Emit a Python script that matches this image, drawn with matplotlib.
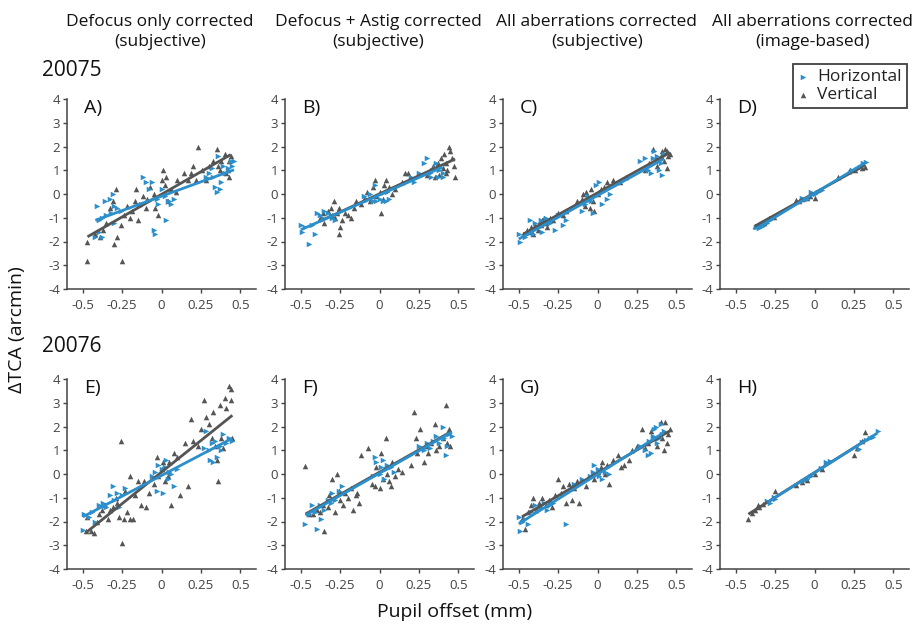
import numpy as np
import matplotlib
matplotlib.use("Agg")
import matplotlib.pyplot as plt

plt.rcParams['font.family'] = ['Open Sans', 'DejaVu Sans']

BLUE = '#2b8fcc'
GRAY = '#555555'
AXC = '#444444'

col_titles = ["Defocus only corrected\n(subjective)",
              "Defocus + Astig corrected\n(subjective)",
              "All aberrations corrected\n(subjective)",
              "All aberrations corrected\n(image-based)"]
row_titles = ["20075", "20076"]
panel_labels = ["A)", "B)", "C)", "D)", "E)", "F)", "G)", "H)"]
xticks = [-0.5, -0.25, 0, 0.25, 0.5]
xticklabels = ["-0.5", "-0.25", "0", "0.25", "0.5"]
yticks = [-4, -3, -2, -1, 0, 1, 2, 3, 4]

# ---- Panel A (20075, defocus only) ----
A_hx = [-0.42, -0.40, -0.38, -0.41, -0.36, -0.35, -0.33, -0.31, -0.30, -0.28, -0.32, -0.26, -0.38, -0.40, -0.30,
        -0.12, -0.10, -0.08, -0.05, -0.04, -0.03, -0.02, 0.00, 0.02, 0.04, 0.05, 0.03, 0.06, -0.06, 0.08,
        0.28, 0.30, 0.32, 0.34, 0.35, 0.36, 0.38, 0.39, 0.40, 0.42, 0.44, 0.46, 0.45, 0.37, 0.33]
A_hy = [-1.8, -1.6, -1.0, -0.5, -0.3, -0.9, -0.2, 0.0, -0.5, -0.6, -0.8, -0.7, -1.8, -1.1, -1.2,
        0.7, 0.5, 0.2, -1.5, -1.7, -0.2, -0.4, 0.2, -0.1, -0.3, -0.3, -1.1, -0.4, 0.5, -0.2,
        0.7, 0.9, 1.1, 0.3, 0.1, 1.6, 0.5, 1.2, 0.9, 1.1, 1.4, 1.4, 1.2, 0.2, 0.7]
A_vx = [-0.47, -0.47, -0.42, -0.39, -0.37, -0.35, -0.33, -0.31, -0.29, -0.30, -0.28, -0.25, -0.26, -0.24,
        -0.22, -0.20, -0.19, -0.17, -0.15, -0.14, -0.12, -0.16, -0.10, -0.09, -0.07, -0.05, -0.04, -0.02,
        0.00, 0.01, 0.02, 0.03, 0.04, 0.06, 0.09, 0.10, 0.14, 0.17, 0.19, 0.20, 0.22, 0.23, 0.26, 0.28,
        0.30, 0.33, 0.35, 0.37, 0.38, 0.40, 0.42, 0.43, 0.43, 0.44, 0.41, 0.36]
A_vy = [-2.0, -2.8, -1.7, -1.8, -1.5, -1.2, -0.6, -0.3, 0.2, -2.1, -1.8, -2.8, -1.3, -0.9,
        -0.5, -1.0, -0.7, -0.3, -1.1, -0.4, -0.1, 0.2, -0.6, -0.2, 0.3, 0.0, -0.6, -0.9,
        0.6, 1.0, 0.4, 0.7, -0.3, 0.2, 0.1, 0.6, 0.9, 0.6, 0.9, 1.2, 0.6, 2.0, 1.0, 0.6,
        1.2, 1.4, 1.9, 1.0, 1.4, 1.7, 1.0, 0.7, 1.4, 1.6, 0.9, 1.2]

# ---- Panel B (20075, defocus + astig) ----
B_hx = [-0.50, -0.49, -0.47, -0.45, -0.43, -0.41, -0.40, -0.38, -0.36, -0.35, -0.33, -0.31, -0.30, -0.28,
        -0.10, -0.08, -0.06, -0.04, -0.02, 0.00, 0.02, 0.04, 0.06, 0.05, -0.03,
        0.20, 0.22, 0.25, 0.28, 0.30, 0.32, 0.33, 0.35, 0.37, 0.38, 0.40, 0.40, 0.36]
B_hy = [-1.3, -1.6, -1.4, -2.1, -1.3, -1.7, -0.8, -0.9, -1.0, -0.7, -0.8, -0.9, -1.0, -1.1,
        -0.1, -0.2, 0.0, -0.3, -0.3, -0.2, -0.3, -0.3, -0.2, 0.1, 0.4,
        0.7, 0.5, 0.9, 1.3, 1.5, 0.9, 0.7, 1.1, 0.7, 1.0, 0.9, 0.7, 1.3]
B_vx = [-0.38, -0.36, -0.35, -0.33, -0.31, -0.30, -0.29, -0.28, -0.27, -0.26, -0.25, -0.26, -0.24, -0.22,
        -0.20, -0.18, -0.16, -0.15, -0.12, -0.10, -0.08, -0.06, -0.04, -0.03, -0.02, 0.00, 0.02, 0.03,
        0.04, 0.01, 0.06, 0.08, 0.10, 0.14, 0.16, 0.18, 0.30, 0.32, 0.34, 0.35, 0.37, 0.38, 0.39, 0.40,
        0.41, 0.42, 0.43, 0.44, 0.45, 0.46, 0.47, 0.48, 0.36, 0.42]
B_vy = [-1.0, -0.8, -1.2, -0.7, -0.6, -0.9, -0.3, -1.0, -0.8, -0.6, -1.4, -1.7, -1.1, -0.8,
        -0.9, -1.0, -0.6, -0.3, -0.4, -0.2, 0.1, -0.3, 0.3, 0.6, -0.1, 0.1, -0.2, 0.4,
        0.6, -0.8, 0.3, 0.0, 0.2, 0.5, 0.9, 0.9, 0.8, 1.0, 1.2, 0.7, 1.3, 0.8, 1.5, 1.1,
        1.7, 1.3, 1.0, 2.0, 1.8, 1.5, 1.2, 0.7, 1.1, 0.9]

# ---- Panel C (20075, all aberrations, subjective) ----
C_hx = [-0.50, -0.49, -0.46, -0.45, -0.43, -0.41, -0.40, -0.38, -0.36, -0.35, -0.33, -0.30, -0.27, -0.25,
        -0.22, -0.20, -0.10, -0.08, -0.06, -0.04, -0.03, -0.01, 0.01, 0.03, 0.06, 0.08, 0.02,
        0.27, 0.30, 0.32, 0.34, 0.35, 0.36, 0.38, 0.39, 0.41, 0.40, 0.42]
C_hy = [-1.7, -2.0, -1.8, -1.7, -1.1, -1.7, -1.2, -1.4, -1.1, -1.6, -1.0, -1.2, -1.5, -0.9,
        -1.3, -1.1, -0.7, -0.4, -0.1, -0.3, -0.8, 0.4, 0.5, -0.4, -0.2, 0.0, 0.1,
        1.4, 1.5, 1.0, 0.9, 1.5, 1.8, 1.6, 1.0, 0.8, 1.3, 1.7]
C_vx = [-0.47, -0.45, -0.44, -0.42, -0.41, -0.40, -0.38, -0.37, -0.36, -0.35, -0.34, -0.33, -0.32, -0.30,
        -0.28, -0.25, -0.22, -0.20, -0.13, -0.10, -0.09, -0.08, -0.07, -0.06, -0.05, -0.04, -0.03, -0.02,
        0.00, 0.02, 0.04, 0.06, 0.10, 0.14, 0.18, 0.30, 0.33, 0.35, 0.37, 0.38, 0.40, 0.42, 0.43, 0.44,
        0.45, 0.46, 0.44, 0.41]
C_vy = [-1.7, -1.5, -1.6, -1.4, -1.7, -1.3, -1.5, -1.2, -1.3, -1.1, -1.0, -1.2, -1.4, -1.0,
        -1.1, -0.8, -0.9, -0.7, -0.3, -0.2, 0.0, -0.5, 0.1, -0.2, -0.6, 0.2, -0.3, -0.7,
        0.0, 0.2, 0.3, 0.5, 0.6, 0.5, 0.7, 1.0, 1.3, 1.9, 1.5, 1.2, 1.6, 1.4, 1.9, 1.8,
        1.6, 1.7, 1.1, 1.8]

# ---- Panel D (20075, all aberrations, image-based) ----
D_hx = [-0.37, -0.35, -0.33, -0.30, -0.28, -0.08, -0.05, -0.02, 0.00, 0.02, 0.05,
        0.24, 0.27, 0.29, 0.31, 0.33]
D_hy = [-1.40, -1.45, -1.35, -1.20, -1.10, -0.15, -0.20, 0.10, 0.00, 0.10, 0.15,
        1.00, 1.05, 1.15, 1.30, 1.35]
D_vx = [-0.38, -0.36, -0.35, -0.34, -0.32, -0.29, -0.26, -0.12, -0.10, -0.08, -0.05, -0.03, 0.00,
        0.15, 0.22, 0.26, 0.30, 0.32]
D_vy = [-1.35, -1.30, -1.25, -1.20, -1.20, -1.00, -0.95, -0.25, -0.30, -0.20, -0.15, -0.10, -0.15,
        0.70, 0.95, 1.00, 1.10, 1.15]

# ---- Panel E (20076, defocus only) ----
E_hx = [-0.50, -0.49, -0.46, -0.44, -0.42, -0.40, -0.37, -0.35, -0.33, -0.31, -0.30, -0.28, -0.27, -0.25,
        -0.23, -0.06, -0.04, -0.02, 0.00, 0.01, 0.02, 0.03, 0.05, 0.06, 0.04, 0.08, -0.03, 0.10,
        0.27, 0.28, 0.30, 0.31, 0.33, 0.34, 0.35, 0.37, 0.38, 0.39, 0.41, 0.43, 0.45, 0.32]
E_hy = [-2.35, -1.7, -1.8, -1.6, -2.0, -1.3, -1.2, -1.4, -0.9, -0.5, -1.1, -0.8, -1.4, -0.9,
        -0.6, -0.1, 0.1, 0.4, 0.2, -0.8, 0.3, 0.6, 0.1, 0.0, -0.2, -0.5, -0.7, 0.2,
        1.1, 1.8, 1.0, 0.6, 0.5, 1.4, 0.7, 1.2, 1.0, 1.7, 1.3, 1.5, 1.4, 1.3]
E_vx = [-0.48, -0.45, -0.43, -0.47, -0.41, -0.40, -0.38, -0.36, -0.34, -0.33, -0.31, -0.29, -0.28, -0.27,
        -0.25, -0.26, -0.24, -0.23, -0.22, -0.20, -0.18, -0.17, -0.20, -0.15, -0.13, -0.11, -0.10, -0.08,
        -0.05, -0.03, -0.02, 0.00, 0.01, 0.02, 0.04, 0.05, 0.06, 0.08, 0.10, 0.12, 0.15, 0.17, 0.19,
        0.20, 0.23, 0.25, 0.27, 0.28, 0.30, 0.32, 0.33, 0.34, 0.35, 0.36, 0.37, 0.38, 0.39, 0.40,
        0.41, 0.43, 0.44, 0.45, 0.44]
E_vy = [-2.4, -2.4, -2.5, -1.8, -2.0, -1.7, -1.5, -1.3, -1.9, -1.5, -1.4, -1.0, -1.2, -1.8,
        -2.9, 1.4, -1.9, -0.7, -1.6, -1.9, -1.9, -0.9, -0.1, -0.3, -1.3, -0.3, -1.4, -0.8,
        -0.4, 0.7, -0.1, 0.2, 0.5, -0.3, -0.1, 0.5, -1.3, 0.9, 0.7, -0.9, 1.3, -0.5, 2.3,
        1.4, 1.2, 1.9, 3.1, 2.4, 2.1, 1.5, 2.6, 1.2, 0.6, -0.3, 2.9, 1.5, 1.1, 3.2,
        2.8, 3.7, 3.6, 1.5, 3.1]

# ---- Panel F (20076, defocus + astig) ----
F_hx = [-0.47, -0.45, -0.43, -0.41, -0.40, -0.38, -0.37, -0.35, -0.33, -0.31, -0.30, -0.28, -0.26, -0.24,
        -0.03, -0.02, 0.00, 0.01, 0.02, 0.03, 0.04, 0.05, -0.04, 0.07, 0.09,
        0.25, 0.28, 0.30, 0.32, 0.34, 0.36, 0.38, 0.40, 0.41, 0.42, 0.44, 0.46, 0.43]
F_hy = [-2.1, -1.7, -1.3, -1.6, -2.3, -1.3, -1.9, -1.5, -1.1, -1.2, -0.8, -1.1, -0.7, -0.5,
        0.7, 0.5, 0.0, 0.3, 0.6, -0.2, 0.2, 0.4, -0.1, 0.3, 0.1,
        1.2, 1.0, 1.3, 1.1, 1.4, 1.6, 1.3, 2.0, 1.5, 0.8, 1.7, 1.6, 1.2]
F_vx = [-0.47, -0.45, -0.42, -0.40, -0.38, -0.36, -0.35, -0.33, -0.32, -0.30, -0.28, -0.27, -0.26, -0.25,
        -0.23, -0.22, -0.20, -0.18, -0.17, -0.15, -0.14, -0.13, -0.12, -0.07, -0.05, -0.03, -0.02, 0.00,
        0.01, 0.02, 0.04, 0.05, 0.06, 0.07, 0.08, 0.10, 0.12, 0.14, 0.20, 0.22, 0.23, 0.24, 0.26,
        0.28, 0.30, 0.31, 0.33, 0.35, 0.36, 0.38, 0.40, 0.42, 0.43, 0.44, 0.45]
F_vy = [0.35, -1.7, -1.7, -1.5, -1.6, -1.3, -2.4, -1.4, -0.9, -0.2, -1.6, 0.0, -0.7, -1.1,
        -1.3, -0.8, -1.0, -0.6, -1.5, -0.9, -0.8, -1.2, 0.8, 1.1, -0.4, -0.5, 0.3, -0.6,
        0.9, -0.2, 1.5, 0.0, -0.3, -0.5, 0.5, -0.1, 0.2, 0.1, 0.4, 2.6, 1.5, 0.9, 1.9,
        0.5, 1.2, 0.9, 1.3, 2.1, 1.0, 1.2, 1.5, 2.9, 1.3, 1.9, 1.2]

# ---- Panel G (20076, all aberrations, subjective) ----
G_hx = [-0.50, -0.49, -0.48, -0.46, -0.44, -0.42, -0.40, -0.38, -0.36, -0.34, -0.32, -0.30, -0.28,
        -0.20, -0.15, -0.10, -0.05, -0.03, -0.02, 0.00, 0.01, 0.03, 0.05, 0.07,
        0.27, 0.30, 0.32, 0.33, 0.34, 0.35, 0.36, 0.37, 0.38, 0.39, 0.40, 0.41, 0.42]
G_hy = [-1.8, -2.4, -2.0, -1.9, -2.1, -1.6, -1.3, -1.5, -1.4, -1.2, -1.5, -1.3, -1.2,
        -2.1, -0.4, -0.2, -0.1, 0.1, 0.4, 0.2, -0.1, -0.2, 0.1, 0.0,
        1.2, 1.0, 0.8, 1.4, 0.9, 1.6, 1.9, 2.0, 1.3, 1.5, 2.1, 1.7, 1.8]
G_vx = [-0.48, -0.46, -0.44, -0.42, -0.41, -0.39, -0.37, -0.35, -0.33, -0.31, -0.29, -0.27, -0.25,
        -0.23, -0.22, -0.20, -0.18, -0.16, -0.15, -0.13, -0.12, -0.07, -0.03, -0.02, 0.00, 0.02,
        0.03, 0.05, 0.06, 0.07, 0.10, 0.13, 0.15, 0.17, 0.20, 0.22, 0.25, 0.28, 0.30, 0.32, 0.34,
        0.36, 0.38, 0.40, 0.41, 0.42, 0.43, 0.44, 0.45, 0.46]
G_vy = [-1.9, -2.3, -1.6, -1.3, -1.0, -1.5, -1.2, -1.0, -1.3, -1.1, -1.4, -0.9, -0.2,
        -0.8, -0.5, -1.2, -0.4, -1.1, -0.6, -0.3, -1.2, -0.5, 0.0, -0.2, 0.1, 0.3,
        0.5, 0.0, 0.4, -0.4, 0.6, 0.8, 0.3, 0.4, 0.6, 1.0, 1.2, 1.9, 1.1, 1.3, 1.8,
        1.5, 1.2, 2.2, 1.5, 1.0, 2.2, 1.3, 1.7, 1.9]

# ---- Panel H (20076, all aberrations, image-based) ----
H_hx = [-0.30, -0.28, -0.26, -0.25, -0.07, -0.05, -0.02, 0.04, 0.07, 0.10,
        0.28, 0.30, 0.33, 0.35, 0.37, 0.40]
H_hy = [-1.15, -1.20, -0.95, -1.05, -0.30, -0.20, -0.10, 0.25, 0.50, 0.55,
        1.05, 1.35, 1.45, 1.50, 1.55, 1.80]
H_vx = [-0.42, -0.40, -0.38, -0.36, -0.35, -0.33, -0.25, -0.12, -0.08, -0.05, 0.00, 0.05,
        0.25, 0.27, 0.30, 0.32]
H_vy = [-1.90, -1.65, -1.50, -1.30, -1.40, -1.25, -0.70, -0.45, -0.35, -0.25, 0.00, 0.20,
        0.80, 1.10, 1.40, 1.75]

panels = [
    (A_hx, A_hy, A_vx, A_vy), (B_hx, B_hy, B_vx, B_vy),
    (C_hx, C_hy, C_vx, C_vy), (D_hx, D_hy, D_vx, D_vy),
    (E_hx, E_hy, E_vx, E_vy), (F_hx, F_hy, F_vx, F_vy),
    (G_hx, G_hy, G_vx, G_vy), (H_hx, H_hy, H_vx, H_vy),
]

W, H = 914, 629
fig = plt.figure(figsize=(W / 100, H / 100), dpi=100)

col_left = [67, 285, 503, 720]
row_top = [99, 379]
ax_w, ax_h = 189, 190


def fit_line(ax, x, y, color):
    x = np.asarray(x, float)
    y = np.asarray(y, float)
    k, b = np.polyfit(x, y, 1)
    xs = np.array([x.min(), x.max()])
    ax.plot(xs, k * xs + b, color=color, lw=2.0, solid_capstyle='butt', zorder=4)


axes = []
for i, (hx, hy, vx, vy) in enumerate(panels):
    r, c = divmod(i, 4)
    ax = fig.add_axes([col_left[c] / W, 1 - (row_top[r] + ax_h) / H, ax_w / W, ax_h / H])
    axes.append(ax)
    ax.scatter(vx, vy, marker='^', s=16, color=GRAY, linewidths=0, zorder=2)
    ax.scatter(hx, hy, marker='>', s=16, color=BLUE, linewidths=0, zorder=3)
    fit_line(ax, vx, vy, GRAY)
    fit_line(ax, hx, hy, BLUE)
    ax.set_xlim(-0.6, 0.6)
    ax.set_ylim(-4, 4)
    ax.set_xticks(xticks)
    ax.set_xticklabels(xticklabels)
    ax.set_yticks(yticks)
    ax.set_yticklabels([str(t) for t in yticks])
    for s in ('top', 'right'):
        ax.spines[s].set_visible(False)
    for s in ('left', 'bottom'):
        ax.spines[s].set_color(AXC)
        ax.spines[s].set_linewidth(1.1)
    ax.tick_params(direction='out', length=3, width=1, color=AXC,
                   labelcolor='#444444', labelsize=9.5, pad=2)
    ax.tick_params(axis='x', pad=4)
    ax.text(0.09, 1.0, panel_labels[i], transform=ax.transAxes,
            fontsize=14, color='#111111', va='top', ha='left')

# Column headings
col_centers = [160, 378, 597, 813]
for t, cx in zip(col_titles, col_centers):
    fig.text(cx / W, 1 - 32 / H, t, ha='center', va='center', fontsize=12.5,
             color='#111111', linespacing=1.4)

# Subject IDs
fig.text(42 / W, 1 - 70 / H, row_titles[0], fontsize=15, color='#111111', va='center', ha='left')
fig.text(42 / W, 1 - 346 / H, row_titles[1], fontsize=15, color='#111111', va='center', ha='left')

# Shared axis labels
fig.text(17 / W, 1 - 330 / H, "\u0394TCA (arcmin)", rotation=90, fontsize=14,
         color='#111111', ha='center', va='center')
fig.text(455 / W, 1 - 612 / H, "Pupil offset (mm)", fontsize=14,
         color='#111111', ha='center', va='center')

# Legend in the top-right panel
ax_d = axes[3]
h_blue = ax_d.scatter([], [], marker='>', s=16, color=BLUE, linewidths=0)
h_gray = ax_d.scatter([], [], marker='^', s=16, color=GRAY, linewidths=0)
leg = fig.legend([h_blue, h_gray], ["Horizontal", "Vertical"],
                 loc='upper right', bbox_to_anchor=(907 / W, 1 - 64 / H),
                 frameon=True, fancybox=False, fontsize=12.5, handlelength=0.6,
                 handletextpad=0.5, borderpad=0.3, labelspacing=0.1,
                 borderaxespad=0.0)
leg.get_frame().set_edgecolor('#111111')
leg.get_frame().set_linewidth(1.3)
for t in leg.get_texts():
    t.set_color('#222222')

fig.savefig("out.png", dpi=100)
